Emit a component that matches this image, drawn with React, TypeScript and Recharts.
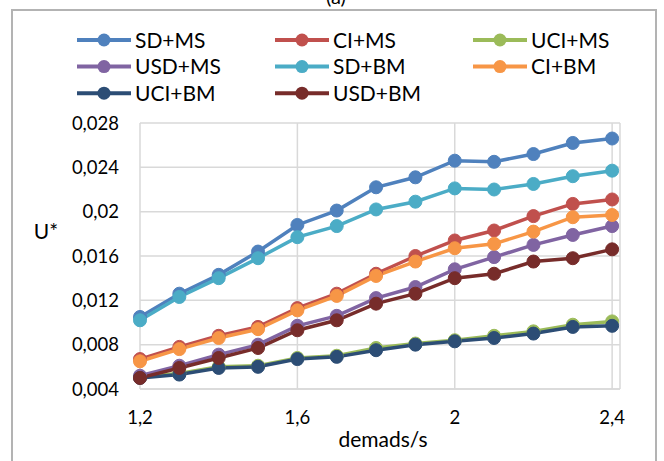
import React from 'react';
import { LineChart, Line, XAxis, YAxis, CartesianGrid } from 'recharts';

const xValues = [1.2, 1.3, 1.4, 1.5, 1.6, 1.7, 1.8, 1.9, 2.0, 2.1, 2.2, 2.3, 2.4];
const sdMs = [0.0105, 0.0126, 0.0143, 0.0164, 0.0188, 0.0201, 0.0222, 0.0231, 0.0246, 0.0245, 0.0252, 0.0262, 0.0266];
const ciMs = [0.0067, 0.0078, 0.0088, 0.0096, 0.0113, 0.0126, 0.0144, 0.0160, 0.0174, 0.0183, 0.0196, 0.0207, 0.0211];
const uciMs = [0.0051, 0.0054, 0.0060, 0.0061, 0.0068, 0.0070, 0.0077, 0.0081, 0.0084, 0.0088, 0.0092, 0.0098, 0.0101];
const usdMs = [0.0052, 0.0061, 0.0071, 0.0080, 0.0097, 0.0106, 0.0122, 0.0132, 0.0148, 0.0159, 0.0170, 0.0179, 0.0187];
const sdBm = [0.0102, 0.0123, 0.0140, 0.0158, 0.0177, 0.0187, 0.0202, 0.0209, 0.0221, 0.0220, 0.0225, 0.0232, 0.0237];
const ciBm = [0.0065, 0.0076, 0.0086, 0.0094, 0.0111, 0.0124, 0.0142, 0.0155, 0.0167, 0.0171, 0.0182, 0.0195, 0.0197];
const uciBm = [0.0050, 0.0053, 0.0059, 0.0060, 0.0067, 0.0069, 0.0075, 0.0080, 0.0083, 0.0086, 0.0090, 0.0096, 0.0097];
const usdBm = [0.0050, 0.0059, 0.0068, 0.0077, 0.0093, 0.0102, 0.0117, 0.0126, 0.0140, 0.0144, 0.0155, 0.0158, 0.0166];

const seriesNames = ['SD+MS', 'CI+MS', 'UCI+MS', 'USD+MS', 'SD+BM', 'CI+BM', 'UCI+BM', 'USD+BM'];
const seriesValues = [sdMs, ciMs, uciMs, usdMs, sdBm, ciBm, uciBm, usdBm];
const seriesColors = ['#4F81BD', '#C0504D', '#9BBB59', '#8064A2', '#4BACC6', '#F79646', '#2C4D75', '#772C2A'];

const xTicks = [1.2, 1.6, 2.0, 2.4];
const yTicks = [0.004, 0.008, 0.012, 0.016, 0.02, 0.024, 0.028];

const data = xValues.map((x, i) => {
  const row: Record<string, number> = { x };
  seriesNames.forEach((n, s) => {
    row[n] = seriesValues[s][i];
  });
  return row;
});

const FONT = 'Lato, "Noto Sans", sans-serif';
const fmt = (v: number) => String(v).replace('.', ',');

export default function App() {
  return (
    <div style={{ position: 'absolute', left: 0, top: 0, width: 664, height: 461, overflow: 'hidden', background: '#fff', fontFamily: FONT }}>
      <LineChart width={664} height={461} data={data} margin={{ top: 123, right: 44, bottom: 0, left: 0 }}>
        <CartesianGrid stroke="#d9d9d9" strokeWidth={1.5} />
        <XAxis
          type="number"
          dataKey="x"
          domain={[1.2, 2.42]}
          ticks={xTicks}
          tickFormatter={fmt}
          height={72}
          tickSize={0}
          tickMargin={22}
          axisLine={{ stroke: '#d9d9d9', strokeWidth: 1.5 }}
          tickLine={false}
          tick={{ fill: '#000', fontSize: 18.5, fontFamily: FONT }}
        />
        <YAxis
          type="number"
          domain={[0.004, 0.028]}
          ticks={yTicks}
          tickFormatter={fmt}
          width={140}
          tickSize={0}
          tickMargin={21}
          axisLine={false}
          tickLine={false}
          tick={{ fill: '#000', fontSize: 18.5, fontFamily: FONT }}
        />
        {seriesNames.map((n, s) => (
          <Line
            key={n}
            type="linear"
            dataKey={n}
            stroke={seriesColors[s]}
            strokeWidth={3.5}
            dot={{ r: 6.5, fill: seriesColors[s], stroke: seriesColors[s], strokeWidth: 1 }}
            activeDot={false}
            isAnimationActive={false}
          />
        ))}
      </LineChart>
      <svg width={664} height={461} style={{ position: 'absolute', left: 0, top: 0, pointerEvents: 'none' }}>
        <rect x={12} y={10} width={644} height={470} fill="none" stroke="#b3b3b3" strokeWidth={2} />
        <text x={336} y={4} textAnchor="middle" fontSize={20} fontFamily={FONT} fill="#000">(a)</text>
        {seriesNames.map((n, s) => {
          const col = s % 3;
          const row = Math.floor(s / 3);
          const x0 = 77 + col * 198;
          const cy = 40 + row * 26.6;
          return (
            <g key={n}>
              <line x1={x0} x2={x0 + 54} y1={cy} y2={cy} stroke={seriesColors[s]} strokeWidth={4} />
              <circle cx={x0 + 27} cy={cy} r={6.5} fill={seriesColors[s]} />
              <text x={x0 + 58} y={cy + 7.5} fontSize={21} fontFamily={FONT} fill="#000">{n}</text>
            </g>
          );
        })}
        <text x={46} y={239} textAnchor="middle" fontSize={21} fontFamily={FONT} fill="#000">U*</text>
        <text x={383} y={447} textAnchor="middle" fontSize={21} fontFamily={FONT} fill="#000">demads/s</text>
      </svg>
    </div>
  );
}
